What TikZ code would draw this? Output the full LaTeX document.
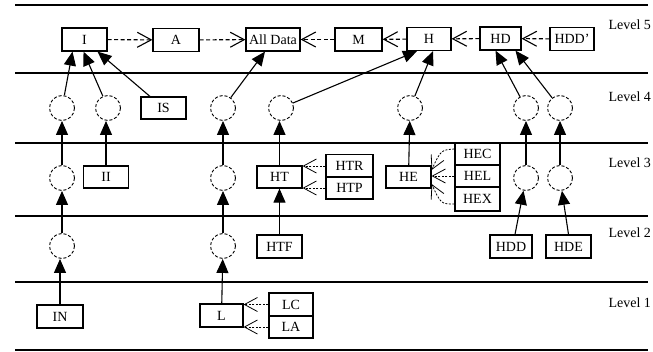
\documentclass[tikz,border=0pt]{standalone}
\usepackage{fontspec}
\setmainfont{Liberation Serif}
\usetikzlibrary{arrows.meta}

\begin{document}
\begin{tikzpicture}[x=1pt,y=-1pt,
  every node/.style={font=\fontsize{14}{16}\selectfont},
  box/.style={draw,line width=1.2pt,minimum width=45pt,minimum height=23pt,inner sep=0pt},
  hub/.style={circle,draw,dash pattern=on 3pt off 2pt,line width=0.9pt,minimum size=25pt,inner sep=0pt},
  up/.style={-{Triangle[length=14pt,width=12pt]},line width=1.1pt},
  link/.style={-{Straight Barb[length=14pt,width=15pt]},dash pattern=on 4pt off 2.5pt,line width=1.1pt},
  feed/.style={-{Straight Barb[length=13pt,width=14pt]},dash pattern=on 2pt off 1.5pt,line width=0.8pt},
  rule/.style={line width=1.4pt}]
\useasboundingbox (0,0) rectangle (653,351);
% level bands
\foreach \y in {5,73,143,216,282,350}
  \draw[rule] (15,\y) -- (648,\y);
\foreach \n/\y in {5/25,4/97,3/163,2/233,1/303}
  \node[anchor=west] (lv\n) at (605,\y) {Level \n};
% level 5
\node[box] (i) at (84.5,39.5) {I};
\node[box,minimum width=46pt] (a) at (176,40) {A};
\node[box,minimum width=54pt] (all) at (273,39.5) {All Data};
\node[box,minimum width=47pt] (m) at (358.5,39.5) {M};
\node[box,minimum width=44pt] (h) at (429,39) {H};
\node[box,minimum width=41pt] (hd) at (500.5,38.5) {HD};
\node[box,minimum width=44pt] (hdd1) at (572,39) {HDD'};
\draw[link] (i) -- (a);
\draw[link] (a) -- (all);
\draw[link] (m) -- (all);
\draw[link] (h) -- (m);
\draw[link] (hd) -- (h);
\draw[link] (hdd1) -- (hd);
% level 4
\node[hub] (c41) at (62,108) {};
\node[hub] (c42) at (108,108) {};
\node[box,minimum height=22pt] (is) at (163.5,108) {IS};
\node[hub] (c43) at (223,108) {};
\node[hub] (c44) at (281,108) {};
\node[hub] (c45) at (410,108) {};
\node[hub] (c46) at (526,108) {};
\node[hub] (c47) at (560,108) {};
\draw[up] (c41) -- ([xshift=-12pt]i.south);
\draw[up] (c42) -- ([xshift=-1pt]i.south);
\draw[up] (is) -- ([xshift=13pt]i.south);
\draw[up] (c43) -- ([xshift=-8pt]all.south);
\draw[up] (c44) -- ([xshift=-12pt]h.south);
\draw[up] (c45) -- ([xshift=4pt]h.south);
\draw[up] (c46) -- ([xshift=-5pt]hd.south);
\draw[up] (c47) -- ([xshift=15pt]hd.south);
% level 3
\node[hub] (c31) at (62,178) {};
\node[box,minimum height=22pt] (ii) at (106,177) {II};
\node[hub] (c32) at (223,178) {};
\node[box,minimum height=22pt] (ht) at (279.5,177) {HT};
\node[box,minimum width=47pt] (htr) at (349.5,166) {HTR};
\node[box,minimum width=47pt,minimum height=22pt] (htp) at (349.5,188) {HTP};
\node[box,minimum height=22pt] (he) at (408.5,177) {HE};
\node[box,minimum height=22pt] (hec) at (477.5,154) {HEC};
\node[box,minimum height=22pt] (hel) at (477.5,176) {HEL};
\node[box,minimum height=24pt] (hex) at (477.5,199) {HEX};
\node[hub] (c33) at (526,178) {};
\node[hub] (c34) at (560,178) {};
\draw[up] (c31) -- (c41);
\draw[up] (ii) -- (ii |- c42.south);
\draw[up] (c32) -- (c43);
\draw[up] (ht) -- (ht |- c44.south);
\draw[up] (he) -- (c45);
\draw[up] (c33) -- (c46);
\draw[up] (c34) -- (c47);
\draw[feed] (htr) -- (htr -| ht.east);
\draw[feed] (htp) -- (htp -| ht.east);
\draw[feed] ([yshift=5pt]hec.west) .. controls (441,150) .. ([yshift=7pt]he.east);
\draw[feed] (hel) -- (hel -| he.east);
\draw[feed] ([yshift=-5pt]hex.west) .. controls (441,204) .. ([yshift=-7pt]he.east);
% level 2
\node[hub] (c21) at (62,246) {};
\node[hub] (c22) at (223,246) {};
\node[box] (htf) at (279.5,246.5) {HTF};
\node[box,minimum width=42pt] (hdd) at (511,246.5) {HDD};
\node[box] (hde) at (568.5,246.5) {HDE};
\draw[up] (c21) -- (c31);
\draw[up] (c22) -- (c32);
\draw[up] (htf) -- (ht);
\draw[up] ([xshift=4pt]hdd.north) -- (c33);
\draw[up] (hde.north) -- (c34);
% level 1
\node[box,minimum width=46pt] (in) at (60,316.5) {IN};
\node[box,minimum width=43pt] (l) at (221.5,315.5) {L};
\node[box,minimum width=44pt] (lc) at (291,304.5) {LC};
\node[box,minimum width=44pt,minimum height=22pt] (la) at (291,327) {LA};
\draw[up] (in) -- (in |- c21.south);
\draw[up] (l) -- (c22);
\draw[feed] (lc) -- (lc -| l.east);
\draw[feed] (la) -- (la -| l.east);
\end{tikzpicture}
\end{document}
